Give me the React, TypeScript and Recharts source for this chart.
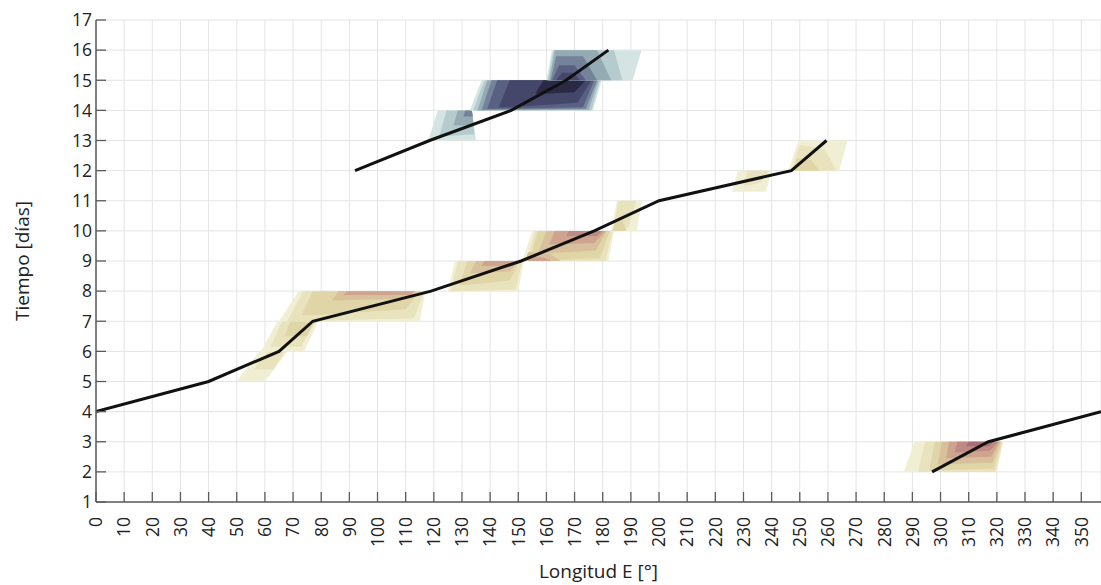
import React from 'react';
import { ComposedChart, Line, Area, XAxis, YAxis, CartesianGrid } from 'recharts';

// ---- axis ticks ----
const xTicks = [0, 10, 20, 30, 40, 50, 60, 70, 80, 90, 100, 110, 120, 130, 140, 150, 160, 170, 180, 190, 200, 210, 220, 230, 240, 250, 260, 270, 280, 290, 300, 310, 320, 330, 340, 350];
const yTicks = [1, 2, 3, 4, 5, 6, 7, 8, 9, 10, 11, 12, 13, 14, 15, 16, 17];

// ---- tracks (longitude, day) ----
const track1 = [
  { x: 0, y: 4 }, { x: 40, y: 5 }, { x: 65, y: 6 }, { x: 77, y: 7 }, { x: 119, y: 8 },
  { x: 151, y: 9 }, { x: 177, y: 10 }, { x: 200, y: 11 }, { x: 247, y: 12 }, { x: 259.5, y: 13 },
];
const track2 = [
  { x: 92, y: 12 }, { x: 118.5, y: 13 }, { x: 147.5, y: 14 }, { x: 167, y: 15 }, { x: 182, y: 16 },
];
const track3 = [
  { x: 297, y: 2 }, { x: 317, y: 3 }, { x: 357, y: 4 },
];

// ---- contour palettes ----
const warmPalette = ['#f1efd3', '#e8e3bc', '#e0d5a6', '#d8c09c', '#cfa48f', '#bf8a86', '#a96f77'];
const coolPalette = ['#d4e4e3', '#b5cbcd', '#94abb3', '#74829a', '#5a6082', '#44466a', '#2b2a45'];

// ---- contour bands: [level, [[lon, lowDay, highDay], ...]] ----
const band5to6 = [
  [0, [[50, 5, 5], [58, 5, 6], [60, 5, 6], [68, 6, 6]]],
  [1, [[56, 5.4, 5.4], [61, 5.4, 6], [63, 5.4, 6], [67, 6, 6]]],
];
const band6to7 = [
  [0, [[58.5, 6, 6], [64.5, 6, 7], [74, 6, 7], [79, 7, 7]]],
  [1, [[62, 6.15, 6.15], [66, 6.15, 7], [73, 6.15, 7], [78, 7, 7]]],
  [2, [[67, 6.5, 6.5], [69, 6.5, 7], [75, 6.5, 7], [77.5, 7, 7]]],
];
const band7to8 = [
  [0, [[65, 7, 7], [72, 7, 8], [115, 7, 8], [117, 8, 8]]],
  [1, [[68, 7, 7], [73.5, 7, 8], [113, 7.1, 8], [116.5, 8, 8]]],
  [2, [[73, 7.2, 7.2], [77, 7.2, 8], [110, 7.4, 8], [115, 8, 8]]],
  [3, [[84, 7.7, 7.7], [86, 7.7, 8], [110, 7.75, 8], [114, 8, 8]]],
  [4, [[88, 7.87, 7.87], [89, 7.87, 8], [112, 7.87, 8], [113, 8, 8]]],
];
const band8to9 = [
  [0, [[125, 8, 8], [127.5, 8, 9], [150, 8, 9], [152, 9, 9]]],
  [1, [[126, 8, 8], [128.5, 8, 9], [149, 8.05, 9], [151.5, 9, 9]]],
  [2, [[129, 8.2, 8.2], [132, 8.2, 9], [147, 8.35, 9], [150.5, 9, 9]]],
  [3, [[133, 8.6, 8.6], [135, 8.6, 9], [147, 8.65, 9], [150, 9, 9]]],
  [4, [[137, 8.83, 8.83], [138, 8.83, 9], [148, 8.83, 9], [149.5, 9, 9]]],
];
const band9to10 = [
  [0, [[151.5, 9, 9], [155, 9, 10], [182, 9, 10], [184, 10, 10]]],
  [1, [[153, 9, 9], [156, 9, 10], [181, 9, 10], [183.5, 10, 10]]],
  [2, [[154, 9, 9], [157, 9, 10], [179, 9.1, 10], [182.5, 10, 10]]],
  [3, [[157, 9.25, 9.25], [160, 9.25, 10], [177.5, 9.35, 10], [181.5, 10, 10]]],
  [4, [[161, 9.55, 9.55], [163, 9.55, 10], [177, 9.6, 10], [181, 10, 10]]],
  [5, [[167, 9.82, 9.82], [168, 9.82, 10], [178, 9.82, 10], [180, 10, 10]]],
  [3, [[152.5, 9, 9], [153.5, 9, 9.3], [161, 9, 9.25], [165, 9, 9]]],
  [4, [[153.5, 9, 9], [154.5, 9, 9.15], [159, 9, 9.12], [162, 9, 9]]],
];
const band10to11 = [
  [0, [[183, 10, 10], [185, 10, 11], [192, 10, 11], [194, 11, 11]]],
  [1, [[184, 10.1, 10.1], [185.5, 10.1, 11], [189, 10.1, 11], [192, 11, 11]]],
  [2, [[183.5, 10, 10], [184.5, 10, 10.35], [187, 10, 10.35], [188.5, 10, 10]]],
];
const band11to12 = [
  [0, [[226, 11.3, 11.3], [228, 11.3, 12], [238, 11.3, 12], [240, 12, 12]]],
  [1, [[230, 11.5, 11.5], [231.5, 11.5, 12], [236, 11.6, 12], [239, 12, 12]]],
];
const band12to13 = [
  [0, [[246, 12, 12], [249.5, 12, 13], [264, 12, 13], [267, 13, 13]]],
  [1, [[247, 12, 12], [250, 12, 12.85], [259, 12, 12.7], [263, 12, 12]]],
  [2, [[247.5, 12, 12], [249, 12, 12.4], [254, 12, 12.35], [257, 12, 12]]],
];
const band2to3 = [
  [0, [[287, 2, 2], [290.7, 2, 3], [320, 2, 3], [322.3, 3, 3]]],
  [1, [[292, 2, 2], [294.5, 2, 3], [319.5, 2, 3], [322, 3, 3]]],
  [2, [[296, 2.05, 2.05], [298, 2.05, 3], [319, 2.1, 3], [321.7, 3, 3]]],
  [3, [[299, 2.25, 2.25], [300.5, 2.25, 3], [318.5, 2.3, 3], [321.3, 3, 3]]],
  [4, [[302, 2.45, 2.45], [303, 2.45, 3], [318, 2.5, 3], [321, 3, 3]]],
  [5, [[305, 2.65, 2.65], [306, 2.65, 3], [317.5, 2.7, 3], [320.5, 3, 3]]],
  [6, [[309, 2.85, 2.85], [310, 2.85, 3], [317, 2.85, 3], [319, 3, 3]]],
];
const band13to14 = [
  [0, [[118, 13, 13], [121.4, 13, 14], [133.5, 13, 14], [135, 13, 13]]],
  [1, [[122, 13.15, 13.15], [124.5, 13.15, 14], [133.5, 13.2, 14], [134.5, 13.2, 13.2]]],
  [2, [[127, 13.5, 13.5], [128.5, 13.5, 14], [133.5, 13.5, 14], [134.2, 13.5, 13.5]]],
  [3, [[130.5, 13.8, 13.8], [131.2, 13.8, 14], [133.5, 13.8, 14], [133.9, 13.8, 13.8]]],
];
const band14to15 = [
  [0, [[132.8, 14, 14], [137, 14, 15], [176.5, 14, 15], [179.6, 15, 15]]],
  [1, [[134, 14, 14], [138, 14, 15], [176, 14, 15], [179, 15, 15]]],
  [2, [[135.5, 14, 14], [139, 14, 15], [175, 14.02, 15], [178.5, 15, 15]]],
  [3, [[137, 14.02, 14.02], [140.5, 14.02, 15], [174, 14.05, 15], [178, 15, 15]]],
  [4, [[139, 14.05, 14.05], [142.5, 14.05, 15], [173, 14.1, 15], [177, 15, 15]]],
  [5, [[143, 14.1, 14.1], [147, 14.1, 15], [171, 14.25, 15], [176, 15, 15]]],
  [6, [[156, 14.55, 14.55], [159, 14.55, 15], [170, 14.6, 15], [174, 15, 15]]],
];
const band15to16 = [
  [0, [[160, 15, 15], [162, 15, 16], [190.6, 15, 16], [193.8, 16, 16]]],
  [1, [[160.5, 15, 15], [162.5, 15, 16], [184, 15, 16], [187, 15, 15]]],
  [2, [[161, 15, 15], [163, 15, 16], [178, 15, 16], [183, 15, 15]]],
  [3, [[161.5, 15, 15], [163.5, 15, 15.8], [173, 15, 15.8], [178, 15, 15]]],
  [4, [[162, 15, 15], [164.5, 15, 15.5], [170, 15, 15.5], [174, 15, 15]]],
  [5, [[163.5, 15, 15], [165.5, 15, 15.25], [169.5, 15, 15.25], [172, 15, 15]]],
];

const warmBands = [band5to6, band6to7, band7to8, band8to9, band9to10, band10to11, band11to12, band12to13, band2to3];
const coolBands = [band13to14, band14to15, band15to16];

const X_MAX = 357;
const AXIS_COLOR = '#5a5a5a';
const TEXT_COLOR = '#222';

const buildLayers = (bands: any[], palette: string[]) => {
  const out: { color: string; data: { x: number; r: number[] }[] }[] = [];
  bands.forEach((band: any[]) => {
    band.forEach(([level, pts]: any) => {
      out.push({ color: palette[level], data: pts.map((p: number[]) => ({ x: p[0], r: [p[1], p[2]] })) });
    });
  });
  return out;
};

const XTick = (props: any) => {
  const { x, y, payload } = props;
  return (
    <g>
      <line x1={x} x2={x} y1={y - 15} y2={y - 25} stroke={AXIS_COLOR} strokeWidth={1.3} />
      <text
        x={x}
        y={y}
        transform={`rotate(-90 ${x} ${y})`}
        textAnchor="end"
        dy="0.36em"
        fontSize={17.5}
        fill={TEXT_COLOR}
      >
        {payload.value}
      </text>
    </g>
  );
};

const YTick = (props: any) => {
  const { x, y, payload } = props;
  return (
    <g>
      <line x1={x + 4} x2={x + 14} y1={y} y2={y} stroke={AXIS_COLOR} strokeWidth={1.3} />
      <text x={x} y={y} textAnchor="end" dy="0.36em" fontSize={17.5} fill={TEXT_COLOR}>
        {payload.value}
      </text>
    </g>
  );
};

const TopTick = (props: any) => {
  const { x, y } = props;
  return <line x1={x} x2={x} y1={y} y2={y + 10} stroke={AXIS_COLOR} strokeWidth={1.3} />;
};

const RightTick = (props: any) => {
  const { x, y } = props;
  return <line x1={x} x2={x - 10} y1={y} y2={y} stroke={AXIS_COLOR} strokeWidth={1.3} />;
};

export default function App() {
  const warmLayers = buildLayers(warmBands, warmPalette);
  const coolLayers = buildLayers(coolBands, coolPalette);
  const allLayers = [...warmLayers, ...coolLayers];
  return (
    <div
      style={{
        position: 'fixed',
        left: 0,
        top: 0,
        width: 1101,
        height: 585,
        overflow: 'hidden',
        background: '#fff',
        fontFamily: '"Open Sans", sans-serif',
      }}
    >
      <ComposedChart width={1101} height={585} margin={{ top: 20, right: 0, bottom: 0, left: 0 }}>
        <CartesianGrid stroke="#e4e4e4" strokeWidth={1} />
        <XAxis
          xAxisId={0}
          type="number"
          dataKey="x"
          domain={[0, X_MAX]}
          allowDataOverflow
          ticks={xTicks}
          interval={0}
          height={83}
          tickSize={0}
          tickMargin={15}
          tickLine={false}
          tick={<XTick />}
          axisLine={{ stroke: AXIS_COLOR, strokeWidth: 1.5 }}
          label={{ value: 'Longitud E [°]', position: 'insideBottom', offset: 7, fontSize: 19, fill: TEXT_COLOR }}
        />
        <XAxis
          xAxisId="top"
          orientation="top"
          type="number"
          dataKey="x"
          domain={[0, X_MAX]}
          allowDataOverflow
          ticks={xTicks}
          interval={0}
          height={0}
          tickSize={0}
          tickMargin={0}
          tickLine={false}
          tick={<TopTick />}
          axisLine={{ stroke: AXIS_COLOR, strokeWidth: 1.5 }}
        />
        <YAxis
          yAxisId={0}
          type="number"
          domain={[1, 17]}
          allowDataOverflow
          ticks={yTicks}
          interval={0}
          width={96}
          tickSize={0}
          tickMargin={4}
          tickLine={false}
          tick={<YTick />}
          axisLine={{ stroke: AXIS_COLOR, strokeWidth: 1.5 }}
          label={{ value: 'Tiempo [días]', angle: -90, position: 'insideLeft', offset: 22, fontSize: 19, fill: TEXT_COLOR, style: { textAnchor: 'middle' } }}
        />
        <YAxis
          yAxisId="right"
          orientation="right"
          type="number"
          domain={[1, 17]}
          allowDataOverflow
          ticks={yTicks}
          interval={0}
          width={0}
          tickSize={0}
          tickMargin={0}
          tickLine={false}
          tick={<RightTick />}
          axisLine={{ stroke: AXIS_COLOR, strokeWidth: 1.5 }}
        />
        {allLayers.map((layer, i) => (
          <Area
            key={`layer-${i}`}
            data={layer.data}
            dataKey="r"
            type="linear"
            stroke="none"
            fill={layer.color}
            fillOpacity={1}
            dot={false}
            activeDot={false}
            isAnimationActive={false}
          />
        ))}
        <Line data={track1} dataKey="y" type="linear" stroke="#111" strokeWidth={3} dot={false} activeDot={false} isAnimationActive={false} />
        <Line data={track2} dataKey="y" type="linear" stroke="#111" strokeWidth={3} dot={false} activeDot={false} isAnimationActive={false} />
        <Line data={track3} dataKey="y" type="linear" stroke="#111" strokeWidth={3} dot={false} activeDot={false} isAnimationActive={false} />
      </ComposedChart>
    </div>
  );
}
